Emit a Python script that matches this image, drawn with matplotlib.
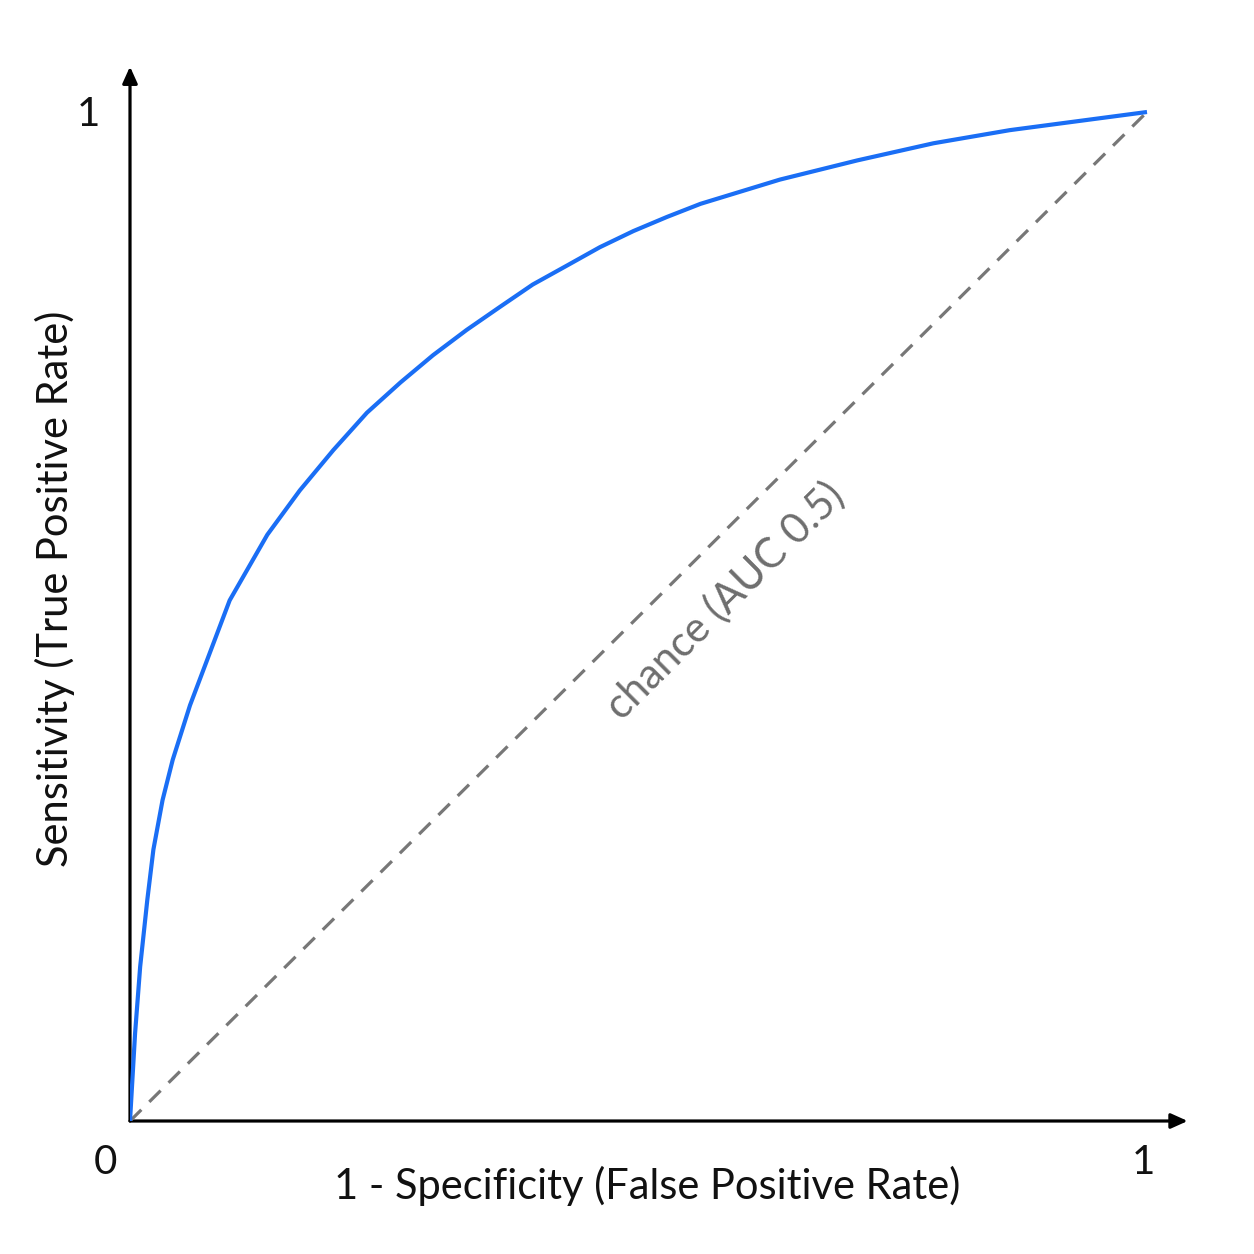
import matplotlib
matplotlib.use("Agg")
import matplotlib.pyplot as plt

plt.rcParams['font.family'] = ['Lato', 'DejaVu Sans']

# ROC curve (false positive rate, true positive rate)
fpr = [0.0, 0.005, 0.010, 0.017, 0.023, 0.032, 0.042, 0.059, 0.098, 0.135,
       0.167, 0.200, 0.233, 0.266, 0.298, 0.331, 0.364, 0.396, 0.430, 0.462,
       0.495, 0.528, 0.561, 0.639, 0.715, 0.790, 0.865, 0.940, 1.0]
tpr = [0.0, 0.087, 0.153, 0.219, 0.269, 0.318, 0.358, 0.412, 0.516, 0.581,
       0.625, 0.665, 0.702, 0.732, 0.759, 0.784, 0.807, 0.829, 0.848, 0.866,
       0.882, 0.896, 0.909, 0.933, 0.952, 0.969, 0.982, 0.992, 1.0]
chance = [0.0, 1.0]

W = 1254
fig = plt.figure(figsize=(12.54, 12.54), dpi=100)
x0, y0 = 130, 1121          # pixel position of the origin
sx, sy = 1017, 1009         # pixels per unit
xmax, ymax = 1.04, 1.045
ax = fig.add_axes([x0 / W, (W - y0) / W, sx * xmax / W, sy * ymax / W])
ax.set_xlim(0, xmax)
ax.set_ylim(0, ymax)
ax.axis('off')

# axes with arrow heads
arrow = dict(arrowstyle='-|>,head_length=1.0,head_width=0.45', color='black',
             lw=2.3, shrinkA=0, shrinkB=0)
ax.annotate('', xy=(xmax, 0), xytext=(0, 0), arrowprops=arrow, zorder=2)
ax.annotate('', xy=(0, ymax), xytext=(0, 0), arrowprops=arrow, zorder=2)

ax.plot(chance, chance, color='#777777', lw=2.3, ls=(0, (5, 3.5)), zorder=3)
ax.plot(fpr, tpr, color='#1a6ef5', lw=3.0, zorder=4, solid_capstyle='butt',
        solid_joinstyle='round')

ax.text(0.585, 0.516, 'chance (AUC 0.5)', rotation=44.8, rotation_mode='anchor',
        ha='center', va='center', fontsize=30, color='#6e6e6e')

# tick labels
ax.text(-0.041, 0.998, '1', ha='center', va='center', fontsize=29, color='#111111')
ax.text(-0.024, -0.041, '0', ha='center', va='center', fontsize=29, color='#111111')
ax.text(0.996, -0.041, '1', ha='center', va='center', fontsize=29, color='#111111')

ax.text(0.509, -0.064, '1 - Specificity (False Positive Rate)', ha='center', va='center',
        fontsize=30, color='#111111')
ax.text(-0.074, 0.527, 'Sensitivity (True Positive Rate)', ha='center', va='center',
        rotation=90, fontsize=30, color='#111111')

fig.savefig('out.png', dpi=100, facecolor='white')
